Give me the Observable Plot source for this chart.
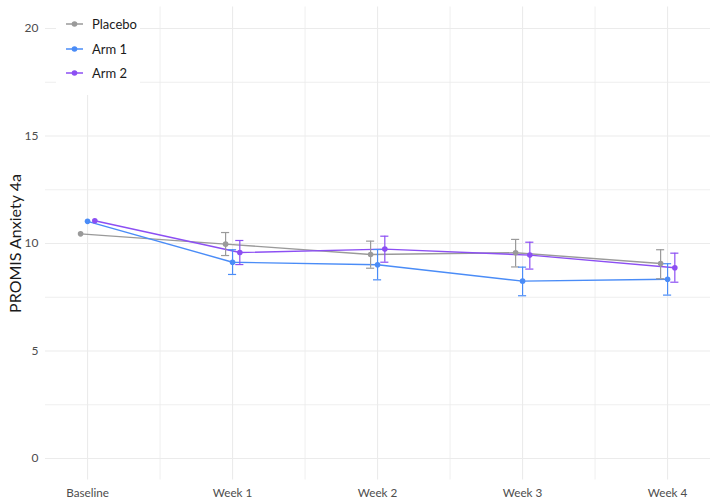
<!DOCTYPE html>
<html>
<head>
<meta charset="utf-8">
<script src="https://cdn.jsdelivr.net/npm/d3@7"></script>
<script src="https://cdn.jsdelivr.net/npm/@observablehq/plot@0.6"></script>
<style>
  html, body { margin: 0; padding: 0; background: #fff; }
  #wrap { position: relative; width: 717px; height: 504px; font-family: Lato, "Noto Sans", sans-serif; }
  #legend { position: absolute; left: 56px; top: 0px; width: 84px; height: 95px; background: #fff; }
  .item { position: absolute; left: 0; height: 20px; display: flex; align-items: center; font-size: 13px; color: #1a1a1a; }
  .item svg { margin-left: 10px; margin-right: 9px; }
</style>
</head>
<body>
<div id="wrap"><div id="legend"></div></div>
<script>
const visits = ["Baseline", "Week 1", "Week 2", "Week 3", "Week 4"];
const seriesNames = ["Placebo", "Arm 1", "Arm 2"];
const seriesColors = ["#9a9a9a", "#4a8cf7", "#8c4ff3"];

const placeboMean = [10.45, 9.97, 9.49, 9.57, 9.07];
const placeboLow  = [null, 9.44, 8.85, 8.91, 8.36];
const placeboHigh = [null, 10.51, 10.11, 10.19, 9.71];

const arm1Mean = [11.03, 9.13, 9.01, 8.25, 8.34];
const arm1Low  = [null, 8.56, 8.31, 7.57, 7.60];
const arm1High = [null, 9.71, 9.72, 8.90, 9.06];

const arm2Mean = [11.06, 9.58, 9.74, 9.46, 8.87];
const arm2Low  = [null, 9.02, 9.13, 8.81, 8.20];
const arm2High = [null, 10.14, 10.34, 10.06, 9.55];

const yTicks = [0, 5, 10, 15, 20];
const yMinor = [2.5, 7.5, 12.5, 17.5];

const dodge = [-0.048, 0, 0.05];
const capHalf = 0.028;

const means = [placeboMean, arm1Mean, arm2Mean];
const lows = [placeboLow, arm1Low, arm2Low];
const highs = [placeboHigh, arm1High, arm2High];

const rows = [];
seriesNames.forEach((s, si) => {
  visits.forEach((v, vi) => {
    rows.push({
      series: s,
      visit: v,
      x: vi + dodge[si],
      mean: means[si][vi],
      low: lows[si][vi],
      high: highs[si][vi]
    });
  });
});
const errRows = rows.filter(d => d.low != null);

const xMajor = visits.map((v, i) => i);
const xMinor = visits.slice(1).map((v, i) => i + 0.5);

const gridColor = "#ebebeb";

const chart = Plot.plot({
  width: 717,
  height: 504,
  marginLeft: 45,
  marginRight: 7,
  marginTop: 6.5,
  marginBottom: 24.5,
  style: { fontFamily: "Lato, 'Noto Sans', sans-serif", background: "transparent" },
  x: { type: "linear", domain: [-0.29, 4.296] },
  y: { domain: [-1, 21] },
  color: { domain: seriesNames, range: seriesColors },
  marks: [
    Plot.gridY(yMinor, { stroke: gridColor, strokeOpacity: 1, strokeWidth: 0.8 }),
    Plot.gridX(xMinor, { stroke: gridColor, strokeOpacity: 1, strokeWidth: 0.8 }),
    Plot.gridY(yTicks, { stroke: gridColor, strokeOpacity: 1, strokeWidth: 1.1 }),
    Plot.gridX(xMajor, { stroke: gridColor, strokeOpacity: 1, strokeWidth: 1.1 }),
    Plot.axisX(xMajor, { tickSize: 0, tickPadding: 9, tickFormat: i => visits[i], fontSize: 11.7, fill: "#4d4d4d", label: null }),
    Plot.axisY(yTicks, { tickSize: 0, tickPadding: 7, fontSize: 12, fill: "#4d4d4d", label: null }),
    Plot.text(["PROMIS Anxiety 4a"], { frameAnchor: "left", textAnchor: "middle", lineAnchor: "middle", rotate: -90, dx: -30, fontSize: 16, fill: "#1a1a1a" }),
    Plot.line(rows, { x: "x", y: "mean", z: "series", stroke: "series", strokeWidth: 1.4 }),
    Plot.ruleX(errRows, { x: "x", y1: "low", y2: "high", stroke: "series", strokeWidth: 1.2 }),
    Plot.ruleY(errRows, { y: "low", x1: d => d.x - capHalf, x2: d => d.x + capHalf, stroke: "series", strokeWidth: 1.2 }),
    Plot.ruleY(errRows, { y: "high", x1: d => d.x - capHalf, x2: d => d.x + capHalf, stroke: "series", strokeWidth: 1.2 }),
    Plot.dot(rows, { x: "x", y: "mean", fill: "series", r: 2.8 })
  ]
});

const wrap = document.getElementById("wrap");
wrap.insertBefore(chart, wrap.firstChild);

const legend = document.getElementById("legend");
const legendTops = [14, 38.5, 63];
seriesNames.forEach((s, i) => {
  const item = document.createElement("div");
  item.className = "item";
  item.style.top = legendTops[i] + "px";
  item.innerHTML = `<svg width="17" height="10"><line x1="0" x2="17" y1="5" y2="5" stroke="${seriesColors[i]}" stroke-width="1.5"/><circle cx="8.5" cy="5" r="2.8" fill="${seriesColors[i]}"/></svg><span>${s}</span>`;
  legend.appendChild(item);
});
</script>
</body>
</html>
